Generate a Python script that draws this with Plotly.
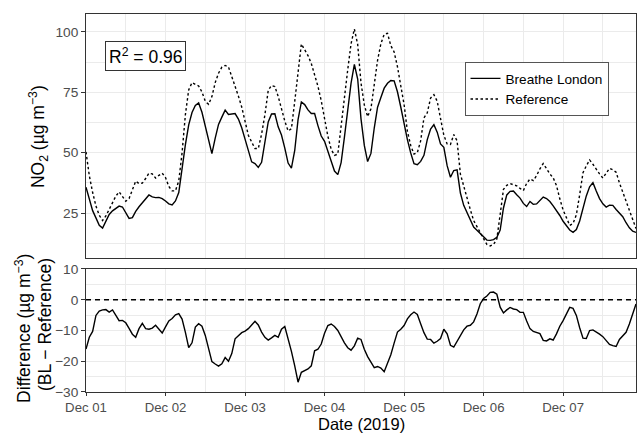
import pandas as pd
import plotly.graph_objects as go
from plotly.subplots import make_subplots

# Hourly values (Dec 01 00:00 onwards)
breathe_london = [
    35.7, 30.8, 26.0, 23.0, 19.9, 18.8, 21.6, 24.4, 25.9, 27.0,
    27.9, 27.5, 24.9, 22.8, 23.1, 25.7, 27.6, 29.2, 31.1, 32.5,
    31.7, 31.4, 31.5, 31.0, 30.0, 28.8, 28.4, 30.0, 33.5, 44.1,
    53.3, 61.5, 66.6, 69.5, 70.6, 66.7, 61.4, 55.1, 49.6, 56.0,
    61.7, 64.7, 67.6, 65.8, 66.0, 66.2, 63.9, 60.3, 55.6, 50.9,
    46.2, 45.5, 43.9, 46.0, 54.4, 62.7, 66.0, 66.1, 60.7, 57.3,
    51.9, 45.7, 43.6, 50.9, 63.7, 71.0, 69.9, 67.7, 66.2, 66.2,
    61.2, 56.9, 54.7, 50.6, 46.4, 42.4, 40.9, 45.9, 56.4, 66.9,
    78.8, 86.5, 80.5, 64.0, 53.0, 46.3, 49.7, 60.2, 68.8, 72.8,
    76.7, 78.7, 79.9, 79.7, 75.2, 68.9, 62.0, 55.4, 49.9, 45.4,
    45.0, 46.4, 48.9, 55.4, 59.8, 61.6, 58.5, 53.6, 52.2, 44.6,
    39.8, 42.6, 42.9, 33.3, 28.2, 25.2, 21.8, 19.2, 17.9, 16.6,
    15.2, 13.8, 13.7, 14.0, 15.0, 18.0, 27.1, 32.5, 34.0, 34.1,
    32.6, 31.2, 29.0, 27.7, 29.8, 28.6, 28.8, 30.2, 31.6, 31.0,
    29.8, 28.0, 26.2, 24.0, 21.6, 19.8, 18.0, 17.0, 18.2, 21.7,
    26.9, 32.1, 35.9, 37.6, 34.1, 31.0, 28.8, 27.5, 28.3, 28.2,
    26.5, 25.1, 23.5, 21.0, 18.9, 17.5, 17.0,
]

reference = [
    50.3, 40.5, 33.5, 27.9, 24.1, 21.9, 23.8, 26.4, 29.2, 32.0,
    33.8, 32.0, 29.9, 31.0, 34.3, 38.2, 37.2, 37.4, 39.3, 41.5,
    41.2, 39.5, 40.6, 41.5, 39.7, 36.0, 34.2, 34.2, 38.3, 50.0,
    65.8, 76.0, 79.0, 78.3, 77.6, 75.1, 71.3, 70.0, 73.2, 79.0,
    82.9, 85.4, 86.1, 85.5, 81.7, 77.9, 73.4, 68.9, 63.0, 57.2,
    54.4, 51.7, 51.7, 57.7, 65.7, 75.8, 77.8, 77.4, 73.3, 68.0,
    63.1, 59.0, 59.9, 71.2, 83.7, 95.0, 92.6, 90.2, 86.9, 82.4,
    77.5, 71.5, 64.1, 56.8, 51.4, 48.9, 49.4, 61.8, 72.4, 84.4,
    95.1, 101.2, 94.8, 78.9, 69.8, 64.9, 68.2, 79.0, 88.2, 95.1,
    99.0, 99.4, 94.3, 91.7, 85.6, 77.7, 70.0, 58.9, 53.0, 49.4,
    50.0, 54.9, 64.4, 66.5, 72.6, 74.0, 71.3, 64.2, 57.2, 53.6,
    53.4, 57.5, 54.9, 41.1, 35.9, 31.1, 26.4, 21.9, 19.6, 16.9,
    14.4, 12.0, 11.4, 12.0, 14.3, 24.4, 34.8, 36.5, 37.2, 36.7,
    36.3, 35.2, 34.3, 37.3, 39.1, 38.4, 40.5, 43.3, 45.5, 43.4,
    41.2, 39.6, 36.4, 30.9, 26.3, 23.1, 19.9, 20.7, 24.3, 32.6,
    41.7, 44.5, 47.0, 45.2, 43.0, 41.2, 39.5, 41.3, 43.5, 42.9,
    41.9, 37.5, 33.6, 29.4, 25.8, 22.3, 18.6,
]

difference = [
    -16.0, -12.2, -10.3, -5.1, -3.7, -3.3, -3.2, -4.0, -3.3, -5.0,
    -6.8, -6.7, -7.5, -9.3, -11.2, -12.2, -9.4, -7.7, -9.4, -9.6,
    -9.2, -8.3, -9.6, -10.8, -8.8, -6.9, -6.1, -4.9, -4.5, -6.3,
    -10.6, -15.6, -14.0, -8.9, -7.8, -8.6, -11.6, -16.0, -20.1, -20.9,
    -21.6, -20.8, -18.8, -20.0, -17.5, -12.7, -11.6, -10.7, -10.2, -9.4,
    -8.2, -7.0, -8.2, -10.5, -12.2, -13.1, -12.4, -11.6, -12.2, -9.6,
    -8.7, -12.6, -16.8, -21.5, -26.8, -23.6, -23.0, -22.5, -21.5, -16.6,
    -16.1, -14.4, -10.9, -8.4, -7.9, -8.7, -10.0, -12.1, -14.0, -15.6,
    -16.4, -15.0, -12.5, -12.9, -16.1, -18.5, -20.5, -22.1, -21.7, -22.2,
    -23.4, -20.8, -17.9, -14.1, -10.5, -9.6, -8.4, -6.2, -4.9, -4.0,
    -4.8, -7.8, -10.7, -12.8, -12.9, -14.1, -13.5, -12.6, -9.6, -11.1,
    -14.8, -15.4, -13.6, -11.9, -9.8, -8.6, -8.3, -7.2, -4.6, -1.3,
    0.4, 1.2, 2.4, 2.5, 1.8, -2.4, -4.3, -3.3, -2.5, -3.0,
    -3.2, -4.1, -4.1, -6.9, -9.4, -10.3, -10.6, -11.0, -13.2, -13.4,
    -12.7, -13.1, -11.1, -8.6, -6.8, -4.5, -2.5, -2.8, -5.1, -9.1,
    -12.5, -12.6, -10.0, -9.8, -10.4, -11.2, -12.0, -13.2, -14.5, -14.9,
    -15.2, -12.9, -11.8, -10.6, -7.9, -4.5, -1.4,
]

start = "2019-12-01 00:00"
t_bl = pd.date_range(start, periods=len(breathe_london), freq="h")
t_ref = pd.date_range(start, periods=len(reference), freq="h")
t_diff = pd.date_range(start, periods=len(difference), freq="h")

r2_label = "R<sup>2</sup> = 0.96"
top_range = [6.4, 107.4]
bottom_range = [-30, 10]

FONT = "Liberation Sans, Arial, sans-serif"
GRID = "#EBEBEB"
BORDER = "#333333"
TICKTXT = "#4D4D4D"

fig = make_subplots(rows=2, cols=1, shared_xaxes=True)

fig.add_trace(go.Scatter(x=t_bl, y=breathe_london, mode="lines", name="Breathe London",
                         line=dict(color="black", width=1.4)), row=1, col=1)
fig.add_trace(go.Scatter(x=t_ref, y=reference, mode="lines", name="Reference",
                         line=dict(color="black", width=1.4, dash="2.5px,2.5px")), row=1, col=1)
fig.add_trace(go.Scatter(x=t_diff, y=difference, mode="lines", showlegend=False,
                         line=dict(color="black", width=1.4)), row=2, col=1)
fig.add_hline(y=0, line=dict(color="black", width=1.3, dash="5px,4px"), row=2, col=1)

xcommon = dict(
    range=[t_diff[0], t_diff[-1]],
    dtick=86400000, tick0="2019-12-01",
    showgrid=True, gridcolor=GRID, gridwidth=1.3,
    minor=dict(dtick=43200000, showgrid=True, gridcolor=GRID, gridwidth=0.8),
    showline=True, mirror=True, linecolor=BORDER, linewidth=1,
    zeroline=False,
)
fig.update_xaxes(**xcommon)
fig.update_xaxes(showticklabels=False, ticks="", row=1, col=1)
fig.update_xaxes(tickformat="%b %d", ticks="outside", ticklen=3, tickcolor=BORDER,
                 tickfont=dict(size=13.2, color=TICKTXT, family=FONT), row=2, col=1)

ycommon = dict(
    showgrid=True, gridcolor=GRID, gridwidth=1.3,
    showline=True, mirror=True, linecolor=BORDER, linewidth=1,
    zeroline=False, ticks="outside", ticklen=4, tickcolor=BORDER,
    tickfont=dict(size=13.7, color=TICKTXT, family=FONT),
)
fig.update_yaxes(**ycommon)
fig.update_yaxes(range=top_range, dtick=25, tick0=0,
                 minor=dict(dtick=12.5, tick0=0, showgrid=True, gridcolor=GRID, gridwidth=0.8),
                 domain=[0.3545, 1.0], row=1, col=1)
fig.update_yaxes(range=bottom_range, dtick=10, tick0=0,
                 minor=dict(dtick=5, tick0=0, showgrid=True, gridcolor=GRID, gridwidth=0.8),
                 domain=[0.0, 0.3254], row=2, col=1)

title_font = dict(size=17.5, family=FONT, color="black")
fig.update_layout(
    width=637, height=433,
    margin=dict(l=86, r=1, t=14, b=41),
    paper_bgcolor="white", plot_bgcolor="white",
    font=dict(family=FONT, color="black"),
    legend=dict(x=0.8191, xanchor="center", y=0.873, yanchor="top",
                bordercolor="#555555", borderwidth=1, bgcolor="white",
                font=dict(size=13.6, family=FONT, color="black"),
                itemwidth=30, tracegroupgap=0),
    annotations=[
        dict(text=r2_label, xref="paper", yref="paper", x=0.108, y=0.889,
             xanchor="center", yanchor="middle", showarrow=False,
             font=dict(size=17.5, family=FONT, color="black"),
             bordercolor=BORDER, borderwidth=1, borderpad=3, bgcolor="white"),
        dict(text="NO<sub>2</sub> (µg m<sup>−3</sup>)", xref="paper", yref="paper",
             x=-0.0873, y=0.677, xanchor="center", yanchor="middle", textangle=-90,
             showarrow=False, font=title_font),
        dict(text="Difference (µg m<sup>−3</sup>)", xref="paper", yref="paper",
             x=-0.1145, y=0.167, xanchor="center", yanchor="middle", textangle=-90,
             showarrow=False, font=title_font),
        dict(text="(BL − Reference)", xref="paper", yref="paper",
             x=-0.0745, y=0.177, xanchor="center", yanchor="middle", textangle=-90,
             showarrow=False, font=title_font),
        dict(text="Date (2019)", xref="paper", yref="paper", x=0.5, y=-0.085,
             xanchor="center", yanchor="middle", showarrow=False,
             font=dict(size=16.5, family=FONT, color="black")),
    ],
)

fig.write_html("out.html")
